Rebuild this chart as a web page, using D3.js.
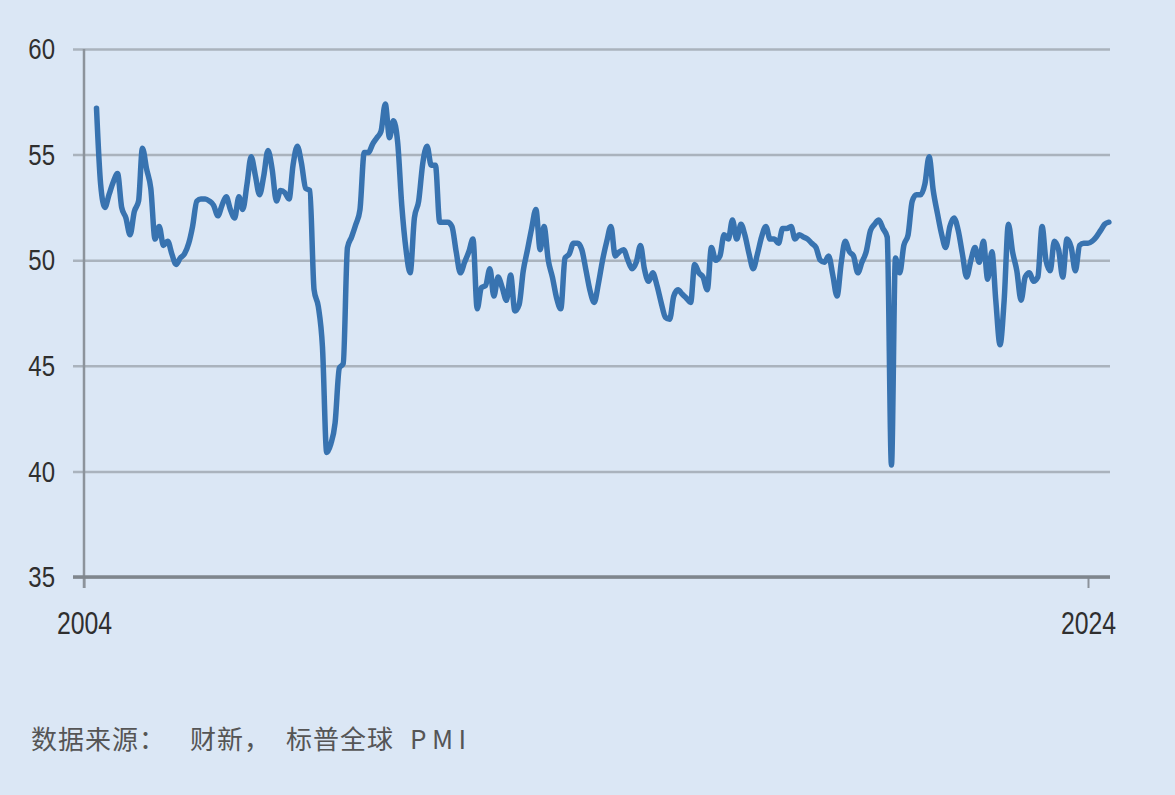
<!DOCTYPE html>
<html>
<head>
<meta charset="utf-8">
<script src="https://cdn.jsdelivr.net/npm/d3@7"></script>
<style>
  html, body { margin: 0; padding: 0; background: #dbe7f5; }
  svg { display: block; }
</style>
</head>
<body>
<div id="chart"></div>
<script>
// Caixin / S&P Global China manufacturing PMI, monthly
var firstMonth = '2004-04';
var pmiValues = [
  57.2, 53.6, 52.5, 53.1, 53.7, 54.1, 52.5, 52.0, 51.2,                    // 2004
  52.3, 52.8, 55.3, 54.3, 53.4, 51.0, 51.6, 50.7, 50.9, 50.3, 49.8, 50.1,  // 2005
  50.3, 50.8, 51.6, 52.8, 52.9, 52.9, 52.8, 52.6, 52.1, 52.6, 53.0, 52.4,  // 2006
  52.0, 53.0, 52.4, 53.6, 54.9, 54.0, 53.1, 54.0, 55.2, 54.3, 52.8, 53.3,  // 2007
  53.2, 52.9, 54.5, 55.4, 54.6, 53.4, 53.3, 48.6, 47.8, 45.9, 40.9, 41.3,  // 2008
  42.3, 44.9, 45.1, 50.6, 51.1, 51.7, 52.4, 55.1, 55.1, 55.5, 55.8, 56.1,  // 2009
  57.4, 55.8, 56.6, 55.6, 52.6, 50.5, 49.4, 52.0, 52.8, 54.6, 55.4, 54.5,  // 2010
  54.5, 51.8, 51.8, 51.8, 51.6, 50.4, 49.4, 49.9, 50.4, 51.0, 47.7, 48.7,  // 2011
  48.8, 49.6, 48.3, 49.2, 48.7, 48.1, 49.3, 47.6, 47.9, 49.5, 50.5, 51.5,  // 2012
  52.4, 50.5, 51.6, 50.0, 49.2, 48.2, 47.7, 50.1, 50.3, 50.8, 50.8, 50.5,  // 2013
  49.5, 48.5, 48.0, 48.9, 50.0, 50.9, 51.6, 50.2, 50.4, 50.5, 50.0, 49.6,  // 2014
  49.9, 50.7, 49.6, 49.0, 49.4, 48.8, 48.0, 47.3, 47.2, 48.3, 48.6, 48.4,  // 2015
  48.2, 48.0, 49.8, 49.4, 49.2, 48.6, 50.6, 50.0, 50.2, 51.2, 51.0, 51.9,  // 2016
  51.0, 51.7, 51.2, 50.3, 49.6, 50.3, 51.1, 51.6, 51.0, 51.0, 50.8, 51.5,  // 2017
  51.5, 51.6, 51.0, 51.2, 51.1, 51.0, 50.8, 50.6, 50.0, 49.9, 50.2, 49.3,  // 2018
  48.3, 49.9, 50.9, 50.4, 50.2, 49.4, 49.9, 50.4, 51.4, 51.7, 51.9, 51.5,  // 2019
  51.1, 40.3, 50.1, 49.4, 50.7, 51.2, 52.8, 53.1, 53.1, 53.6, 54.9, 53.3,  // 2020
  52.2, 51.2, 50.6, 51.6, 52.0, 51.4, 50.3, 49.2, 50.0, 50.6, 49.9, 50.9,  // 2021
  49.1, 50.4, 48.1, 46.0, 48.1, 51.7, 50.4, 49.5, 48.1, 49.2, 49.4, 49.0,  // 2022
  49.2, 51.6, 50.0, 49.5, 50.9, 50.5, 49.2, 51.0, 50.6, 49.5, 50.7, 50.8,  // 2023
  50.8, 50.9, 51.1, 51.4, 51.7, 51.8                                       // 2024
];
var yTicks = [35, 40, 45, 50, 55, 60];
var xTickYears = [2004, 2024];
var sourceParts = ['数据来源：', '财新，', '标普全球', 'PMI'];

var W = 1175, H = 795;
var plotLeft = 84, plotRight = 1110, plotTop = 49, plotBottom = 577;
var gridStart = 73;
var narrow = 0.8; // squeeze digits to look like the condensed face in the original

var parseMonth = d3.timeParse('%Y-%m');
var start = parseMonth(firstMonth);

var data = pmiValues.map(function(v, i) {
  return { date: d3.timeMonth.offset(start, i), value: v };
});

var x = d3.scaleTime()
  .domain([new Date(2004, 0, 1), new Date(2024, 0, 1)])
  .range([plotLeft, 1088]);
var y = d3.scaleLinear().domain([35, 60]).range([plotBottom, plotTop]);

var svg = d3.select('#chart').append('svg')
  .attr('width', W)
  .attr('height', H);

svg.append('rect').attr('width', W).attr('height', H).attr('fill', '#dbe7f5');

var numFont = '"Liberation Sans", Arial, sans-serif';

// horizontal grid + y labels
var yAxis = d3.axisLeft(y)
  .tickValues(yTicks)
  .tickSize(-(plotRight - gridStart))
  .tickPadding(18)
  .tickFormat(d3.format('d'));

svg.append('g')
  .attr('transform', 'translate(' + gridStart + ',0)')
  .call(yAxis)
  .call(function(g) {
    g.select('.domain').remove();
    g.selectAll('line').attr('stroke', '#aab3bd').attr('stroke-width', 2.5);
    g.selectAll('text')
      .attr('fill', '#2f2f2f')
      .attr('x', -18 / narrow)
      .attr('transform', 'scale(' + narrow + ',1)')
      .style('font-family', numFont)
      .style('font-size', '30px');
  });

// vertical axis line
svg.append('line')
  .attr('x1', plotLeft).attr('x2', plotLeft)
  .attr('y1', plotTop).attr('y2', plotBottom + 11)
  .attr('stroke', '#8c939b').attr('stroke-width', 2.5);

// x axis
var xAxis = d3.axisBottom(x)
  .tickValues(xTickYears.map(function(yr) { return new Date(yr, 0, 1); }))
  .tickSize(11)
  .tickPadding(24)
  .tickFormat(d3.timeFormat('%Y'));

svg.append('g')
  .attr('transform', 'translate(0,' + plotBottom + ')')
  .call(xAxis)
  .call(function(g) {
    g.select('.domain').remove();
    g.selectAll('line').attr('stroke', '#8c939b').attr('stroke-width', 2);
    g.selectAll('text')
      .attr('fill', '#2f2f2f')
      .attr('transform', 'scale(' + narrow + ',1)')
      .style('font-family', numFont)
      .style('font-size', '31px');
  });

svg.append('line')
  .attr('x1', gridStart).attr('x2', plotRight)
  .attr('y1', plotBottom).attr('y2', plotBottom)
  .attr('stroke', '#7f868d').attr('stroke-width', 3.5);

// the series
var line = d3.line()
  .x(function(d) { return x(d.date); })
  .y(function(d) { return y(d.value); })
  .curve(d3.curveMonotoneX);

svg.append('path')
  .datum(data)
  .attr('d', line)
  .attr('fill', 'none')
  .attr('stroke', '#3873b0')
  .attr('stroke-width', 5.5)
  .attr('stroke-linejoin', 'round')
  .attr('stroke-linecap', 'round');

// source note
var noteGaps = [0, 24, 15, 16];
var note = svg.append('text')
  .attr('x', 31)
  .attr('y', 749)
  .attr('fill', '#555555')
  .style('font-family', '"Noto Sans CJK SC", "Noto Sans", sans-serif')
  .style('font-size', '26px')
  .style('letter-spacing', '1px');

note.selectAll('tspan')
  .data(sourceParts)
  .enter().append('tspan')
  .attr('dx', function(d, i) { return noteGaps[i]; })
  .style('letter-spacing', function(d, i) { return i === 3 ? '5.5px' : null; })
  .text(function(d) { return d; });
</script>
</body>
</html>
